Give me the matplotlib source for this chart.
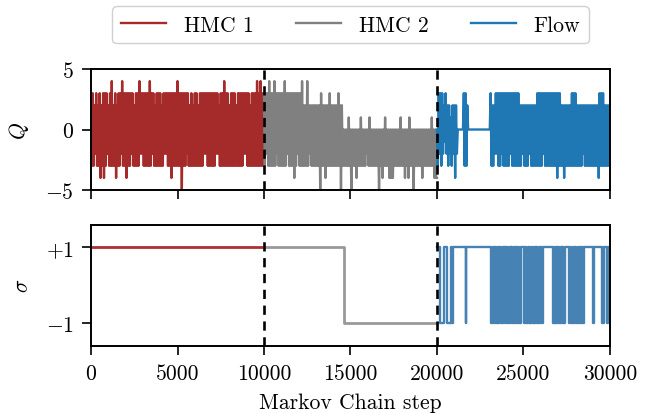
import numpy as np
import matplotlib
matplotlib.use("Agg")
import matplotlib.pyplot as plt

plt.rcParams['font.family'] = 'serif'
plt.rcParams['font.serif'] = ['cmr10']
plt.rcParams['mathtext.fontset'] = 'cm'
plt.rcParams['axes.formatter.use_mathtext'] = True
plt.rcParams['font.size'] = 15.6

# sampling of the traces (one value every 50 steps)
STEP = 50

# topological charge Q, HMC 1 (steps 0 - 10000)
q_hmc1 = [
    0, -3, 3, -3, 2, -2, 3, -3, 2, -3, 3, -4, 2, -3, 3, -4, 3, -3, 3, -2,
    2, -3, 3, -3, 4, -3, 2, -3, 3, -4, 2, -3, 3, -3, 3, -2, 4, -3, 3, -3,
    3, -4, 3, -3, 3, -3, 3, -2, 3, -3, 2, -3, 3, -3, 3, -3, 4, -2, 3, -2,
    3, -3, 3, -3, 3, -3, 3, -3, 4, -3, 3, -2, 3, -3, 2, -3, 3, -3, 3, -3,
    3, -3, 2, -3, 3, -2, 3, -2, 3, -3, 3, -3, 3, -4, 3, -3, 3, -3, 3, -3,
    4, -3, 3, -3, 3, -5, 3, -3, 3, -3, 3, -2, 3, -3, 2, -3, 3, -3, 2, -3,
    3, -3, 3, -3, 2, -3, 3, -3, 3, -3, 3, -2, 3, -2, 3, -3, 3, -3, 3, -3,
    3, -3, 3, -3, 3, -2, 3, -2, 2, -3, 3, -3, 3, -3, 4, -3, 3, -3, 3, -3,
    2, -3, 3, -3, 3, -3, 3, -3, 2, -3, 3, -3, 3, -3, 3, -3, 3, -2, 3, -2,
    3, -3, 3, -3, 2, -3, 3, -3, 3, -3, 3, -3, 4, -3, 3, -3, 4, -3, 3, -3,
]

# HMC 2 (steps 10000 - 20000)
q_hmc2 = [
    3, -3, 3, -2, 3, -3, 4, -3, 3, -3, 3, -3, 4, -3, 3, -2, 3, -3, 3, -3,
    3, -3, 3, -3, 4, -3, 3, -2, 3, -3, 3, -3, 3, -3, 3, -4, 3, -3, 3, -2,
    3, -3, 3, -3, 4, -3, 2, -3, 2, -3, 4, -3, 2, -2, 2, -3, 2, -3, 2, -3,
    2, -3, 2, -3, 2, -5, 3, -3, 2, -3, 2, -4, 2, -3, 2, -3, 3, -3, 2, -3,
    2, -3, 2, -3, 2, -3, 3, -3, 2, -5, 2, -3, 0, -3, 0, -3, 0, -3, 1, -3,
    0, -5, 0, -3, 0, -3, 0, -4, 0, -3, 0, -3, 1, -3, 0, -3, 0, -3, 0, -2,
    0, -3, 1, -3, 0, -3, 0, -3, 0, -3, 0, -3, 0, -5, 0, -3, 0, -4, 0, -3,
    1, -3, 0, -3, 0, -4, 0, -4, 0, -4, 0, -3, 0, -3, 0, -3, 0, -3, 1, -3,
    0, -3, 0, -4, 0, -3, 0, -4, 1, -3, 0, -3, 0, -5, 0, -3, 0, -3, 0, -3,
    0, -3, 0, -4, 0, -3, 0, -3, 0, -3, 0, -3, 0, -3, 1, -3, 0, -4, 0, -4,
]

# Flow (steps 20000 - 30000)
q_flow = [
    0, -3, 3, -2, 3, -3, 3, -2, 2, -1, 3, -2, 2, -3, 2, -2, 1, -3, 2, -2,
    2, -4, 2, -2, 0, 0, 0, 0, 0, 0, 0, 3, -3, 3, -3, 2, 0, 0, 0, 0,
    0, 0, 0, 0, 0, 0, 0, 0, 0, 0, 0, 0, 0, 0, 0, 0, 0, 0, 0, 0,
    0, 0, 3, -3, 2, -3, 2, -2, 3, -2, 3, -3, 3, -3, 3, -2, 3, -3, 3, -3,
    3, -3, 3, -3, 3, -2, 3, -3, 3, -3, 3, -3, 3, -3, 3, -3, 2, -3, 2, -2,
    2, -3, 2, -3, 2, -3, 2, -2, 2, -3, 2, -3, 2, -3, 2, -3, 3, -3, 3, -3,
    3, -3, 3, -2, 3, -3, 3, -3, 3, -3, 3, -3, 3, -3, 3, -3, 3, -3, 3, -4,
    3, -3, 3, -3, 2, -3, 2, -4, 2, -3, 2, -3, 2, -3, 2, -3, 3, -3, 3, -3,
    3, -3, 2, -3, 2, -3, 2, -3, 2, -2, 2, -3, 2, -3, 2, -3, 2, -3, 2, -3,
    2, -3, 2, -3, 2, -3, 2, -4, 3, -3, 3, -3, 3, -3, 2, -3, 2, -3, 2, -3,
]

# sign sigma: HMC runs given as change points, flow sampled every 50 steps
sigma_hmc1_steps = [0, 10000]
sigma_hmc1 = [1, 1]
sigma_hmc2_steps = [10000, 14600, 20000]
sigma_hmc2 = [1, -1, -1]
sigma_flow = [
    1, 1, 1, 1, -1, -1, -1, -1, 1, 1, 1, 1, -1, -1, -1, -1, 1, -1, -1, 1,
    1, 1, 1, 1, 1, 1, 1, 1, 1, 1, 1, 1, 1, -1, 1, 1, 1, 1, 1, 1,
    1, 1, 1, 1, 1, 1, 1, 1, 1, 1, 1, 1, 1, 1, 1, 1, 1, 1, 1, 1,
    1, 1, 1, -1, -1, 1, -1, 1, -1, -1, 1, -1, 1, 1, -1, -1, 1, -1, 1, 1,
    -1, 1, -1, -1, 1, -1, 1, -1, -1, 1, -1, 1, -1, -1, 1, -1, -1, 1, 1, 1,
    1, -1, 1, -1, -1, 1, -1, 1, -1, -1, 1, -1, -1, 1, -1, 1, -1, -1, 1, -1,
    1, -1, -1, 1, 1, 1, 1, 1, 1, 1, 1, 1, 1, 1, -1, -1, 1, -1, 1, -1,
    1, -1, -1, 1, -1, 1, -1, -1, 1, 1, 1, 1, 1, -1, 1, -1, -1, 1, -1, -1,
    1, -1, -1, 1, -1, 1, -1, -1, 1, -1, 1, 1, 1, 1, 1, 1, 1, 1, 1, 1,
    -1, 1, 1, 1, 1, 1, 1, 1, 1, 1, 1, -1, -1, 1, 1, 1, -1, -1, 1, 1,
]

segments = ["HMC 1", "HMC 2", "Flow"]
q_colors = ["brown", "grey", "tab:blue"]
s_colors = ["#b03030", "#999999", "steelblue"]
boundaries = [10000, 20000]

fig = plt.figure(figsize=(6.51, 4.14), dpi=100)
ax1 = fig.add_axes([0.1398, 0.5386, 0.7972, 0.2923])
ax2 = fig.add_axes([0.1398, 0.1626, 0.7972, 0.2923], sharex=ax1)

for i, q in enumerate([q_hmc1, q_hmc2, q_flow]):
    x = 10000 * i + STEP * np.arange(len(q))
    x = np.append(x, 10000 * (i + 1))
    y = np.append(q, q[-1])
    ax1.plot(x, y, color=q_colors[i], lw=1.7, label=segments[i])

ax2.plot(sigma_hmc1_steps, sigma_hmc1, color=s_colors[0], lw=2.0,
         drawstyle="steps-post")
ax2.plot(sigma_hmc2_steps, sigma_hmc2, color=s_colors[1], lw=2.0,
         drawstyle="steps-post")
xf = 20000 + STEP * np.arange(len(sigma_flow))
ax2.plot(np.append(xf, 30000), np.append(sigma_flow, sigma_flow[-1]),
         color=s_colors[2], lw=1.7, drawstyle="steps-post")

for ax in (ax1, ax2):
    for b in boundaries:
        ax.axvline(b, color="black", ls=(0, (3.5, 2.5)), lw=1.9, zorder=5)
    for s in ax.spines.values():
        s.set_linewidth(1.4)
    ax.tick_params(direction="out", length=6.5, width=1.2, pad=6)

ax1.set_xlim(0, 30000)
ax1.set_ylim(-5, 5)
ax1.set_yticks([-5, 0, 5])
ax1.set_yticklabels(["$-5$", "$0$", "$5$"])
ax1.set_ylabel("$Q$", labelpad=10)
ax1.tick_params(labelbottom=False)

ax2.set_ylim(-1.6, 1.6)
ax2.set_yticks([-1, 1])
ax2.set_yticklabels(["$-1$", "$+1$"])
ax2.set_ylabel(r"$\sigma$", labelpad=10)
ax2.set_xticks([0, 5000, 10000, 15000, 20000, 25000, 30000])
ax2.set_xticklabels(["0", "5000", "10000", "15000", "20000", "25000", "30000"])
ax2.set_xlabel("Markov Chain step", labelpad=7)

fig.legend(loc="upper center", bbox_to_anchor=(0.5384, 0.982), ncol=3,
           handlelength=2.1, handletextpad=0.8, columnspacing=1.95,
           edgecolor="#d0d0d0", framealpha=1.0, borderpad=0.4,
           borderaxespad=0.0)

fig.savefig("out.png", dpi=100)
